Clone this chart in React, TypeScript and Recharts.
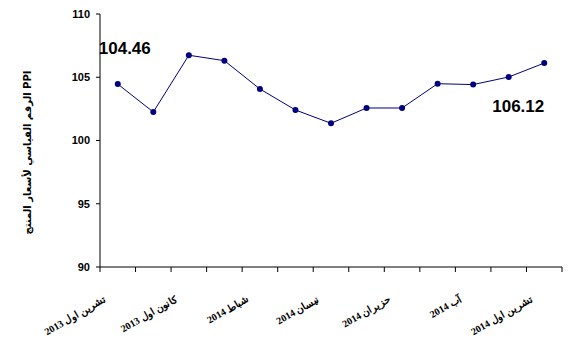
import React from 'react';
import { LineChart, Line, XAxis, YAxis, LabelList } from 'recharts';

const months = [
  'تشرين اول 2013', 'تشرين ثاني 2013', 'كانون اول 2013', 'كانون ثاني 2014',
  'شباط 2014', 'آذار 2014', 'نيسان 2014', 'أيار 2014', 'حزيران 2014',
  'تموز 2014', 'آب 2014', 'أيلول 2014', 'تشرين اول 2014',
];
const ppi = [104.46, 102.25, 106.74, 106.31, 104.07, 102.41, 101.36, 102.57, 102.57, 104.49, 104.42, 105.02, 106.12];
const yTicks = [90, 95, 100, 105, 110];
const yTitle = 'الرقم القياسي لأسعار المنتج PPI';

const data = months.map((m, i) => ({ x: i + 0.5, month: m, value: ppi[i] }));
const xTicks = months.map((_, i) => i).concat([months.length]);

const W = 569;
const H = 353;
const LEFT = 100;
const RIGHT = 7;
const BAND = (W - LEFT - RIGHT) / months.length;
const NAVY = '#000080';

const XTick = (props: any) => {
  const { x, y, payload } = props;
  const i = payload.value;
  if (i % 2 !== 0 || i >= months.length) return null;
  const ax = x + BAND / 2 - 11;
  const ay = y + 27;
  return (
    <text
      x={ax}
      y={ay}
      textAnchor="end"
      transform={`rotate(-30 ${ax} ${ay})`}
      fontFamily="'Liberation Serif', 'DejaVu Serif', serif"
      fontWeight="bold"
      fontSize={10}
      fill="#000"
    >
      {months[i]}
    </text>
  );
};

const ValueLabel = (props: any) => {
  const { x, y, index, value } = props;
  let dx = 0;
  let dy = 0;
  if (index === 0) {
    dx = 7; dy = -30;
  } else if (index === ppi.length - 1) {
    dx = -26; dy = 49;
  } else {
    return null;
  }
  return (
    <text
      x={x + dx}
      y={y + dy}
      textAnchor="middle"
      fontFamily="'Liberation Sans', Arial, sans-serif"
      fontWeight="bold"
      fontSize={17}
      fill="#000"
    >
      {Number(value).toFixed(2)}
    </text>
  );
};

const YTitle = (props: any) => {
  const vb = props.viewBox || {};
  const cx = 27;
  const cy = (vb.y ?? 14) + (vb.height ?? 252) / 2 + 12;
  return (
    <text
      x={cx}
      y={cy}
      textAnchor="middle"
      dominantBaseline="central"
      transform={`rotate(-90 ${cx} ${cy})`}
      fontFamily="'DejaVu Sans', sans-serif"
      fontWeight="bold"
      fontSize={10}
      fill="#000"
    >
      {yTitle}
    </text>
  );
};

export default function App() {
  return (
    <div style={{ position: 'absolute', left: 0, top: 0, width: W, height: H, background: '#fff' }}>
      <LineChart width={W} height={H} data={data} margin={{ top: 14, right: RIGHT, bottom: 0, left: 0 }}>
        <XAxis
          dataKey="x"
          type="number"
          domain={[0, months.length]}
          ticks={xTicks}
          interval={0}
          tick={<XTick />}
          tickSize={5}
          axisLine={{ stroke: '#000', strokeWidth: 1 }}
          tickLine={{ stroke: '#000' }}
          height={86}
        />
        <YAxis
          domain={[90, 110]}
          ticks={yTicks}
          width={LEFT}
          tickSize={4}
          tickMargin={6}
          axisLine={{ stroke: '#000', strokeWidth: 1 }}
          tickLine={{ stroke: '#000' }}
          tick={{ fill: '#000', fontSize: 11, fontWeight: 'bold', fontFamily: "'Liberation Sans', Arial, sans-serif" }}
          label={<YTitle />}
        />
        <Line
          dataKey="value"
          stroke={NAVY}
          strokeWidth={1}
          dot={{ r: 3, fill: NAVY, stroke: NAVY, strokeWidth: 0 }}
          isAnimationActive={false}
        >
          <LabelList dataKey="value" content={<ValueLabel />} />
        </Line>
      </LineChart>
    </div>
  );
}
